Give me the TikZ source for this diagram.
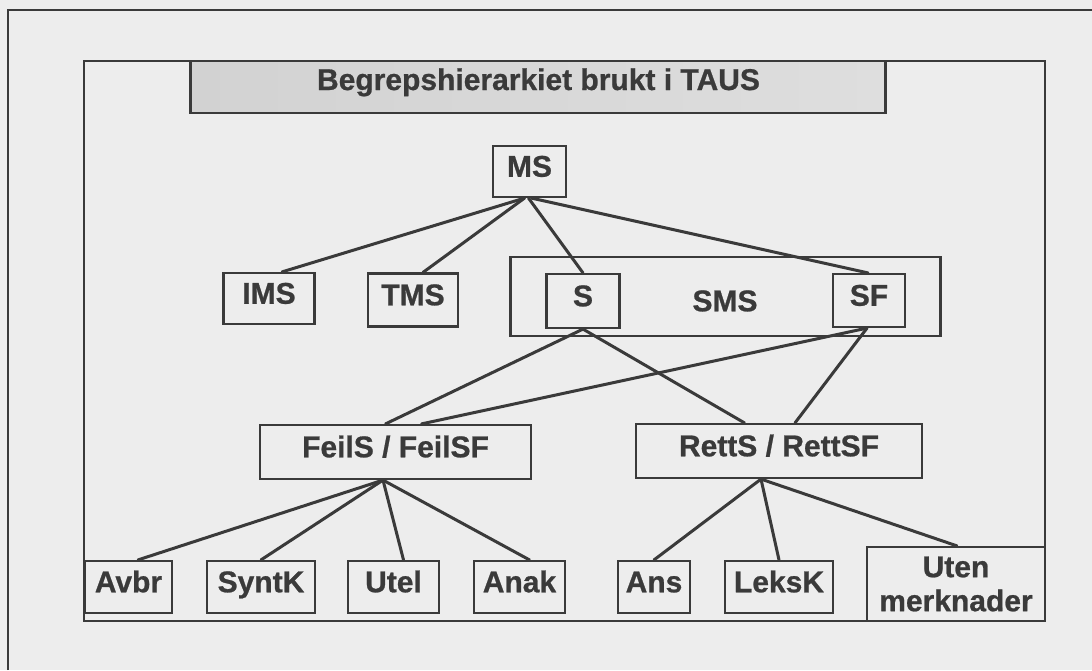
\documentclass[tikz,border=0pt]{standalone}
\usepackage{fontspec}
\setmainfont{Liberation Sans}[BoldFeatures={FakeBold=0.8}]
\definecolor{ink}{HTML}{3A3A3A}
\definecolor{paper}{HTML}{EDEDED}
\definecolor{titleL}{HTML}{D2D2D2}
\definecolor{titleR}{HTML}{DEDEDE}
\tikzset{
  boxbase/.style={draw=ink, line width=2.2pt, fill=paper, inner sep=0pt, text=ink,
    font=\bfseries\fontsize{30}{34}\selectfont},
  box/.style={boxbase, text height=21pt, text depth=10.5pt},
  link/.style={draw=ink, line width=3pt, line cap=round},
  label/.style={inner sep=0pt, text=ink, font=\bfseries\fontsize{30}{34}\selectfont,
    text height=21pt, text depth=10.5pt},
}
\begin{document}
\begin{tikzpicture}[x=1pt,y=-1pt]
\fill[paper] (0,0) rectangle (1092,670);
\useasboundingbox (0,0) rectangle (1092,670);
% page edges
\coordinate (pageBL) at (8,670);
\coordinate (pageTL) at (8,10);
\coordinate (pageTR) at (1092,10);
\draw[ink, line width=2pt] (pageBL) -- (pageTL) -- (pageTR);
% inner frame
\node[draw=ink, line width=2.2pt, inner sep=0pt, minimum width=961pt, minimum height=560pt] (frame) at (564.5,341) {};
% title
\node[draw=ink, line width=2.2pt, inner sep=0pt, left color=titleL, right color=titleR,
      minimum width=695pt, minimum height=52pt] (titlebox) at (538,87) {};
\node[label, anchor=base] (title) at (538.5,90) {Begrepshierarkiet brukt i TAUS};
% top
\node[box, minimum width=73pt, minimum height=51pt] (MS) at (529.5,171.5) {MS};
% second row
\node[box, minimum width=91pt, minimum height=51pt] (IMS) at (269,298.5) {IMS};
\node[box, minimum width=90pt, minimum height=53pt] (TMS) at (413,300) {TMS};
\node[box, minimum width=430pt, minimum height=79pt] (SMSbox) at (725.5,296.5) {};
\node[label] (SMS) at (725,306) {SMS};
\node[box, minimum width=73pt, minimum height=54pt] (S) at (583,301) {S};
\node[box, minimum width=72pt, minimum height=53pt] (SF) at (869,300.5) {SF};
% third row
\node[box, minimum width=271pt, minimum height=54pt] (FeilS) at (395.5,452) {FeilS / FeilSF};
\node[box, minimum width=286pt, minimum height=54pt] (RettS) at (779,451) {RettS / RettSF};
% bottom row
\node[box, minimum width=87pt, minimum height=52pt] (Avbr) at (128.5,587) {Avbr};
\node[box, minimum width=108pt, minimum height=52pt] (SyntK) at (261,587) {SyntK};
\node[box, minimum width=91pt, minimum height=52pt] (Utel) at (393.5,587) {Utel};
\node[box, minimum width=91pt, minimum height=52pt] (Anak) at (519.5,587) {Anak};
\node[box, minimum width=72pt, minimum height=52pt] (Ans) at (654,587) {Ans};
\node[box, minimum width=108pt, minimum height=52pt] (LeksK) at (779,587) {LeksK};
\node[boxbase, align=center, minimum width=178pt, minimum height=74pt] (Uten) at (956,584) {Uten\\merknader};
% connectors
\draw[link] ([xshift=-5pt]MS.south) -- ([xshift=13pt]IMS.north);
\draw[link] ([xshift=-5pt]MS.south) -- ([xshift=10pt]TMS.north);
\draw[link] ([xshift=-1pt]MS.south) -- (S.north);
\draw[link] ([xshift=2pt]MS.south) -- ([xshift=-1pt]SF.north);
\draw[link] (S.south) -- ([xshift=-10pt]FeilS.north);
\draw[link] (S.south) -- ([xshift=-34.5pt]RettS.north);
\draw[link] ([xshift=-2pt]SF.south) -- ([xshift=26pt]FeilS.north);
\draw[link] ([xshift=-2pt]SF.south) -- ([xshift=16pt]RettS.north);
\draw[link] ([xshift=-12.5pt]FeilS.south) -- ([xshift=9.5pt]Avbr.north);
\draw[link] ([xshift=-12.5pt]FeilS.south) -- (SyntK.north);
\draw[link] ([xshift=-12.5pt]FeilS.south) -- ([xshift=10pt]Utel.north);
\draw[link] ([xshift=-12.5pt]FeilS.south) -- ([xshift=10pt]Anak.north);
\draw[link] ([xshift=-18pt]RettS.south) -- (Ans.north);
\draw[link] ([xshift=-18pt]RettS.south) -- (LeksK.north);
\draw[link] ([xshift=-18pt]RettS.south) -- ([xshift=1pt]Uten.north);
\end{tikzpicture}
\end{document}
